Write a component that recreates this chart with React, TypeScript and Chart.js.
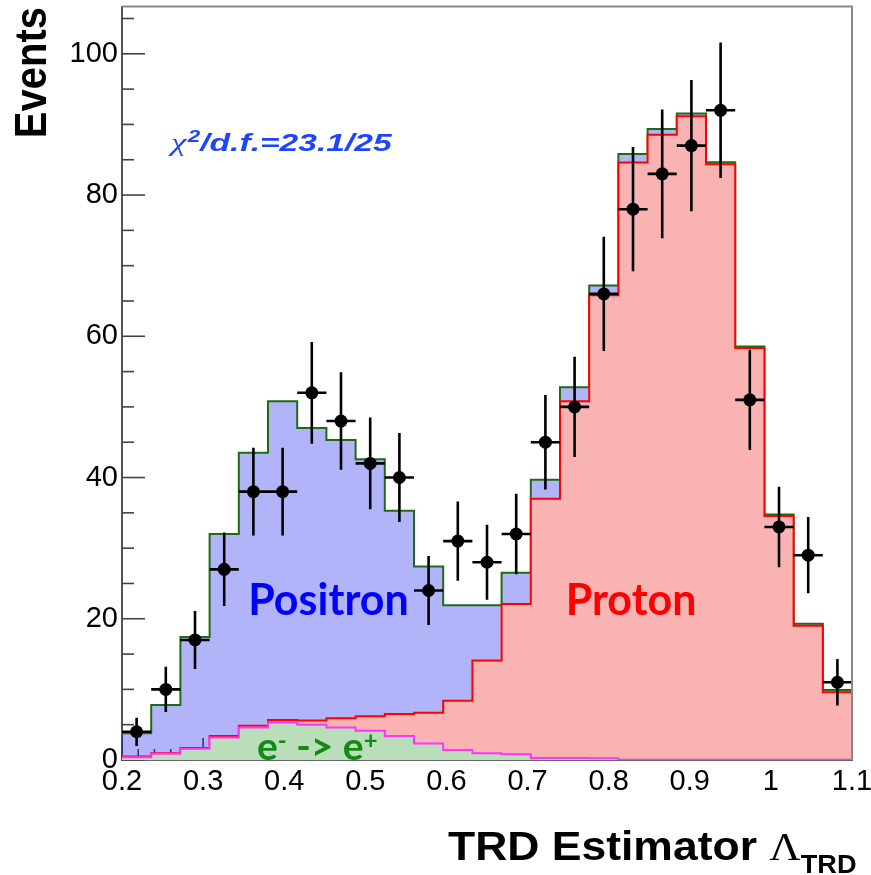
import React, { useEffect, useRef } from 'react';
import { Chart, registerables } from 'chart.js';

Chart.register(...registerables);

// ---------- data ----------
const binEdges = [0.2, 0.236, 0.272, 0.308, 0.344, 0.38, 0.416, 0.452, 0.488, 0.524, 0.56, 0.596, 0.632,
  0.668, 0.704, 0.74, 0.776, 0.812, 0.848, 0.884, 0.92, 0.956, 0.992, 1.028, 1.064, 1.1];
const binCenters = [0.218, 0.254, 0.29, 0.326, 0.362, 0.398, 0.434, 0.47, 0.506, 0.542, 0.578, 0.614, 0.65,
  0.686, 0.722, 0.758, 0.794, 0.83, 0.866, 0.902, 0.938, 0.974, 1.01, 1.046, 1.082];
const binHalfWidth = 0.018;

const dataCounts = [4, 10, 17, 27, 38, 38, 52, 48, 42, 40, 24, 31, 28, 32, 45, 50, 66, 78, 83, 87, 92, 51, 33, 29, 11];
const dataErrors = [2.0, 3.2, 4.1, 5.2, 6.2, 6.2, 7.2, 6.9, 6.5, 6.3, 4.9, 5.6, 5.3, 5.7, 6.7, 7.1, 8.1, 8.8, 9.1, 9.3, 9.6, 7.1, 5.7, 5.4, 3.3];

const chargeConfusion = [0.4, 0.9, 1.6, 3.2, 4.6, 5.3, 5.0, 4.6, 4.15, 3.4, 2.35, 1.4, 0.95, 0.8, 0.3, 0.3, 0.25,
  0.05, 0.05, 0.05, 0.05, 0.05, 0.05, 0.05, 0.05];
const protonTemplate = [0.1, 0.05, 0.1, 0.2, 0.25, 0.35, 0.6, 1.3, 2.05, 3.1, 4.35, 7.0, 13.15, 21.3, 36.7, 50.5,
  65.55, 84.55, 88.5, 91.1, 84.3, 58.3, 34.5, 18.95, 9.55];
const positronTemplate = [3.3, 6.85, 15.7, 28.6, 38.65, 45.15, 41.4, 39.4, 36.4, 28.8, 20.7, 13.5, 7.8, 4.4, 2.7,
  2.0, 1.4, 1.2, 0.8, 0.4, 0.3, 0.2, 0.2, 0.3, 0.3];

const xTickValues = [0.2, 0.3, 0.4, 0.5, 0.6, 0.7, 0.8, 0.9, 1.0, 1.1];
const yTickValues = [0, 20, 40, 60, 80, 100];

const X_MIN = 0.2;
const X_MAX = 1.1;
const Y_MAX = 106.7;

// ---------- styles ----------
const SANS = '"Liberation Sans", Arial, Helvetica, sans-serif';
const SERIF = '"Liberation Serif", "Times New Roman", serif';
const LABEL = 'Lato, "Open Sans", sans-serif';

function stepData(values: number[]) {
  return binEdges.map((x, i) => ({ x, y: values[Math.min(i, values.length - 1)] }));
}

const decorPlugin = {
  id: 'decor',
  beforeDatasetsDraw(chart: any) {
    const { ctx, chartArea: a, scales } = chart;
    const xs = scales.x;
    const ys = scales.y;
    ctx.save();
    ctx.strokeStyle = '#444';
    ctx.lineWidth = 1.6;
    for (let k = 0; k <= 45; k++) {
      const px = xs.getPixelForValue(X_MIN + k * 0.02);
      const len = k % 5 === 0 ? 22 : 11;
      ctx.beginPath();
      ctx.moveTo(px, a.bottom);
      ctx.lineTo(px, a.bottom - len);
      ctx.stroke();
    }
    for (let k = 0; k <= 21; k++) {
      const py = ys.getPixelForValue(k * 5);
      const len = k % 4 === 0 ? 23 : 12;
      ctx.beginPath();
      ctx.moveTo(a.left, py);
      ctx.lineTo(a.left + len, py);
      ctx.stroke();
    }
    ctx.restore();
  },
  beforeDatasetDraw(chart: any, args: any) {
    if (args.index !== 3) return;
    const { ctx, scales } = chart;
    const xs = scales.x;
    const ys = scales.y;
    ctx.save();
    ctx.textBaseline = 'alphabetic';

    // Positron / Proton labels
    ctx.font = `bold 43px ${LABEL}`;
    ctx.textAlign = 'center';
    ctx.fillStyle = '#0000ff';
    ctx.fillText('Positron', xs.getPixelForValue(0.4546), ys.getPixelForValue(20.6));
    ctx.fillStyle = '#ff0000';
    ctx.fillText('Proton', xs.getPixelForValue(0.8276), ys.getPixelForValue(20.6));

    // e- -> e+
    ctx.textAlign = 'left';
    ctx.fillStyle = '#138a13';
    let cx = xs.getPixelForValue(0.3664);
    const by = ys.getPixelForValue(0);
    ctx.font = `bold 39px ${LABEL}`;
    ctx.fillText('e', cx, by);
    cx += ctx.measureText('e').width;
    ctx.font = `bold 24px ${LABEL}`;
    ctx.fillText('-', cx, by - 11);
    cx += ctx.measureText('-').width;
    ctx.font = `bold 39px ${LABEL}`;
    ctx.fillText(' -> e', cx, by);
    cx += ctx.measureText(' -> e').width;
    ctx.font = `bold 24px ${LABEL}`;
    ctx.fillText('+', cx, by - 11);

    // chi2 label
    ctx.save();
    ctx.translate(xs.getPixelForValue(0.2604), ys.getPixelForValue(86.3));
    ctx.scale(1.4, 1);
    ctx.fillStyle = '#1f45fc';
    ctx.font = `italic 25px ${SERIF}`;
    ctx.fillText('\u03c7', 0, 0);
    let w = ctx.measureText('\u03c7').width + 1;
    ctx.font = `italic bold 16px ${SANS}`;
    ctx.fillText('2', w, -9);
    w += ctx.measureText('2').width;
    ctx.font = `italic bold 24px ${SANS}`;
    ctx.fillText('/d.f.=23.1/25', w, 0);
    ctx.restore();

    // error bars
    ctx.strokeStyle = '#000';
    ctx.lineWidth = 2.6;
    for (let i = 0; i < dataCounts.length; i++) {
      const px = xs.getPixelForValue(binCenters[i]);
      const py = ys.getPixelForValue(dataCounts[i]);
      ctx.beginPath();
      ctx.moveTo(px, ys.getPixelForValue(dataCounts[i] - dataErrors[i]));
      ctx.lineTo(px, ys.getPixelForValue(dataCounts[i] + dataErrors[i]));
      ctx.moveTo(xs.getPixelForValue(binCenters[i] - binHalfWidth), py);
      ctx.lineTo(xs.getPixelForValue(binCenters[i] + binHalfWidth), py);
      ctx.stroke();
    }
    ctx.restore();
  },
  afterDraw(chart: any) {
    const { ctx, chartArea: a } = chart;
    ctx.save();
    ctx.strokeStyle = '#888';
    ctx.lineWidth = 2;
    ctx.beginPath();
    ctx.moveTo(a.left, a.top);
    ctx.lineTo(a.right, a.top);
    ctx.lineTo(a.right, a.bottom);
    ctx.stroke();

    // axis titles
    ctx.fillStyle = '#000';
    ctx.textBaseline = 'alphabetic';
    // y title
    ctx.save();
    ctx.translate(46, 7);
    ctx.scale(1.1, 1);
    ctx.rotate(-Math.PI / 2);
    ctx.textAlign = 'right';
    ctx.font = `bold 40px ${SANS}`;
    ctx.fillText('Events', 0, 0);
    ctx.restore();
    // x title
    ctx.save();
    ctx.translate(448, 860);
    ctx.scale(1.085, 1);
    ctx.textAlign = 'left';
    ctx.font = `bold 41px ${SANS}`;
    ctx.fillText('TRD Estimator ', 0, 0);
    let w = ctx.measureText('TRD Estimator ').width;
    ctx.font = `40px ${SERIF}`;
    ctx.fillText('\u039b', w, 0);
    w += ctx.measureText('\u039b').width;
    ctx.font = `bold 25px ${SANS}`;
    ctx.fillText('TRD', w, 13);
    ctx.restore();
    ctx.restore();
  },
};

export default function App() {
  const canvasRef = useRef<HTMLCanvasElement | null>(null);

  useEffect(() => {
    if (!canvasRef.current) return;
    const lower = chargeConfusion;
    const mid = chargeConfusion.map((v, i) => v + protonTemplate[i]);
    const total = mid.map((v, i) => v + positronTemplate[i]);

    const chart = new Chart(canvasRef.current, {
      type: 'line',
      data: {
        datasets: [
          {
            label: 'Positron',
            data: stepData(total),
            stepped: 'before',
            borderColor: '#1e6b14',
            borderWidth: 2,
            backgroundColor: 'rgba(7,13,239,0.31)',
            fill: 'origin',
            pointRadius: 0,
            order: 3,
          },
          {
            label: 'Proton',
            data: stepData(mid),
            stepped: 'before',
            borderColor: '#ff0000',
            borderWidth: 2,
            backgroundColor: '#f9b3b3',
            fill: 'origin',
            pointRadius: 0,
            order: 2,
          },
          {
            label: 'e- -> e+',
            data: stepData(lower),
            stepped: 'before',
            borderColor: '#ff33ff',
            borderWidth: 2,
            backgroundColor: '#b9deb9',
            fill: 'origin',
            pointRadius: 0,
            order: 1,
          },
          {
            label: 'Data',
            data: binCenters.map((x, i) => ({ x, y: dataCounts[i] })),
            showLine: false,
            pointRadius: 6.5,
            pointBackgroundColor: '#000',
            pointBorderColor: '#000',
            pointBorderWidth: 0,
            order: 0,
          },
        ],
      },
      options: {
        animation: false,
        responsive: false,
        maintainAspectRatio: false,
        layout: { padding: { left: 0, right: 19, top: 4, bottom: 0 } },
        plugins: { legend: { display: false }, tooltip: { enabled: false } },
        scales: {
          x: {
            type: 'linear',
            min: X_MIN,
            max: X_MAX,
            afterFit: (s: any) => { s.height = 115; s.paddingLeft = 0; s.paddingRight = 0; },
            afterBuildTicks: (s: any) => { s.ticks = xTickValues.map((value) => ({ value })); },
            ticks: {
              font: { family: SANS, size: 29 },
              color: '#000',
              padding: 5,
              maxRotation: 0,
              autoSkip: false,
              callback: (v: any) => String(Number(Number(v).toFixed(2))),
            },
            grid: { display: false, drawTicks: false },
            border: { display: true, color: '#666', width: 2 },
          },
          y: {
            type: 'linear',
            min: 0,
            max: Y_MAX,
            afterFit: (s: any) => { s.width = 122; s.paddingTop = 0; s.paddingBottom = 0; },
            afterBuildTicks: (s: any) => { s.ticks = yTickValues.map((value) => ({ value })); },
            ticks: {
              font: { family: SANS, size: 29 },
              color: '#000',
              padding: 4,
              callback: (v: any) => String(v),
            },
            grid: { display: false, drawTicks: false },
            border: { display: true, color: '#555', width: 2 },
          },
        },
      },
      plugins: [decorPlugin],
    } as any);

    return () => chart.destroy();
  }, []);

  return (
    <div style={{ position: 'fixed', left: 0, top: 0, width: 871, height: 875, background: '#fff' }}>
      <canvas ref={canvasRef} width={871} height={875} />
    </div>
  );
}
